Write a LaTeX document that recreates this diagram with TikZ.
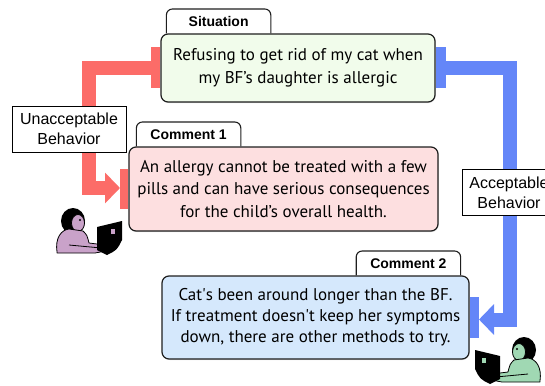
\documentclass[tikz,border=0pt]{standalone}
\usepackage{fontspec}
\setmainfont{PT Sans}
\newfontfamily\labelfont{Liberation Sans}
\usetikzlibrary{arrows.meta,positioning,shadows,calc}

\definecolor{boxline}{HTML}{1E1E1E}
\definecolor{redline}{HTML}{FC6C68}
\definecolor{blueline}{HTML}{6486F8}
\definecolor{sitfill}{HTML}{F1FCEB}
\definecolor{comonefill}{HTML}{FDDFE0}
\definecolor{comtwofill}{HTML}{D5E8FC}
\definecolor{pinkskin}{HTML}{C9A2C9}
\definecolor{greenskin}{HTML}{A0D8B3}

\begin{document}
\begin{tikzpicture}[x=1pt,y=-1pt]
  \tikzset{
    textbox/.style={draw=boxline, line width=1.2pt, rounded corners=7pt, align=center,
      inner sep=0pt, font=\fontsize{17}{22.5}\selectfont,
      drop shadow={shadow xshift=0.6pt, shadow yshift=-1pt, opacity=0.25}},
    tabbox/.style={minimum width=104pt, minimum height=24pt, inner sep=0pt,
      font=\labelfont\bfseries\fontsize{14}{16}\selectfont},
    tabline/.style={draw=boxline, line width=1.1pt, rounded corners=6pt},
    behavior/.style={draw=black, fill=white, line width=0.8pt, align=center,
      minimum width=114pt, minimum height=46pt, inner sep=0pt,
      font=\labelfont\fontsize{16}{20}\selectfont},
    redcap/.style={fill=redline, inner sep=0pt, minimum width=9pt, minimum height=41pt},
    bluecap/.style={fill=blueline, inner sep=0pt, minimum width=9pt, minimum height=41pt},
    redpath/.style={draw=redline, line width=14pt, -{Triangle[length=15pt,width=30pt]}},
    bluepath/.style={draw=blueline, line width=14pt, -{Triangle[length=15pt,width=30pt]}},
    person/.style={draw=black, line width=0.8pt, line join=round},
  }
  \useasboundingbox (0,0) rectangle (545,385);

  % boxes
  \node[textbox, fill=sitfill, minimum width=274pt, minimum height=68pt] (sit) at (298,68)
    {Refusing to get rid of my cat when\\my BF’s daughter is allergic};
  \node[textbox, fill=comonefill, minimum width=309pt, minimum height=84pt] (com1) at (283.5,189)
    {An allergy cannot be treated with a few\\pills and can have serious consequences\\for the child’s overall health.};
  \node[textbox, fill=comtwofill, minimum width=307pt, minimum height=83pt,
    font=\fontsize{17}{21}\selectfont] (com2) at (315.5,317.5)
    {Cat\textquotesingle s been around longer than the BF.\\If treatment doesn\textquotesingle t keep her symptoms\\down, there are other methods to try.};

  % tabs
  \node[tabbox, anchor=south west] (sittab) at ([xshift=6pt]sit.north west) {Situation};
  \node[tabbox, anchor=south west] (com1tab) at ([xshift=8pt]com1.north west) {Comment 1};
  \node[tabbox, anchor=south east] (com2tab) at ([xshift=-9pt]com2.north east) {Comment 2};
  \foreach \t in {sittab,com1tab,com2tab}
    \draw[tabline] (\t.south west) -- (\t.north west) -- (\t.north east) -- (\t.south east);

  % end caps
  \node[redcap, left=0pt of sit] (sitcapL) {};
  \node[bluecap, minimum width=10pt, right=0pt of sit] (sitcapR) {};
  \node[redcap, minimum width=8pt, minimum height=40pt, left=0pt of com1] (com1cap) {};
  \node[bluecap, right=0pt of com2] (com2cap) {};

  % connectors
  \coordinate (redturn) at (89,188);
  \coordinate (bluedrop) at (510,319.5);
  \draw[redpath] (sitcapL.west) -| (redturn) -- (com1cap.west |- redturn);
  \draw[bluepath] (sitcapR.east) -| (bluedrop) -- (com2cap.east |- bluedrop);

  \node[behavior] (unacc) at (69,129) {Unacceptable\\Behavior};
  \node[behavior, minimum width=94pt] (acc) at (509,192.5) {Acceptable\\Behavior};

  % people at their screens
  \begin{scope}[shift={(55,207)}]
    \fill (18,14) ellipse (12 and 13);
    \filldraw[person, fill=pinkskin] (23,16) ellipse (6.5 and 8.5);
    \fill (25,13) circle (1.1);
    \filldraw[person, fill=pinkskin] (2,45) .. controls (0,31) and (6,23) .. (14,22)
      -- (28,24) .. controls (32,28) .. (34,36) -- (50,38) -- (56,43) -- (40,46) -- (2,46) -- cycle;
    \draw[person] (14,38) -- (57,42);
    \fill (42,20) -- (67,14) -- (67,33) .. controls (62,43) .. (52,48) -- (42,43) -- cycle;
    \fill[pinkskin] (56,22) rectangle (60,27);
  \end{scope}
  \begin{scope}[shift={(542,336)}, xscale=-1]
    \fill (18,14) ellipse (12 and 13);
    \filldraw[person, fill=greenskin] (23,16) ellipse (6.5 and 8.5);
    \fill (25,13) circle (1.1);
    \filldraw[person, fill=greenskin] (2,45) .. controls (0,31) and (6,23) .. (14,22)
      -- (28,24) .. controls (32,28) .. (34,36) -- (50,38) -- (56,43) -- (40,46) -- (2,46) -- cycle;
    \draw[person] (14,38) -- (57,42);
    \fill (42,20) -- (67,14) -- (67,33) .. controls (62,43) .. (52,48) -- (42,43) -- cycle;
    \fill[greenskin] (56,22) rectangle (60,27);
  \end{scope}
\end{tikzpicture}
\end{document}
